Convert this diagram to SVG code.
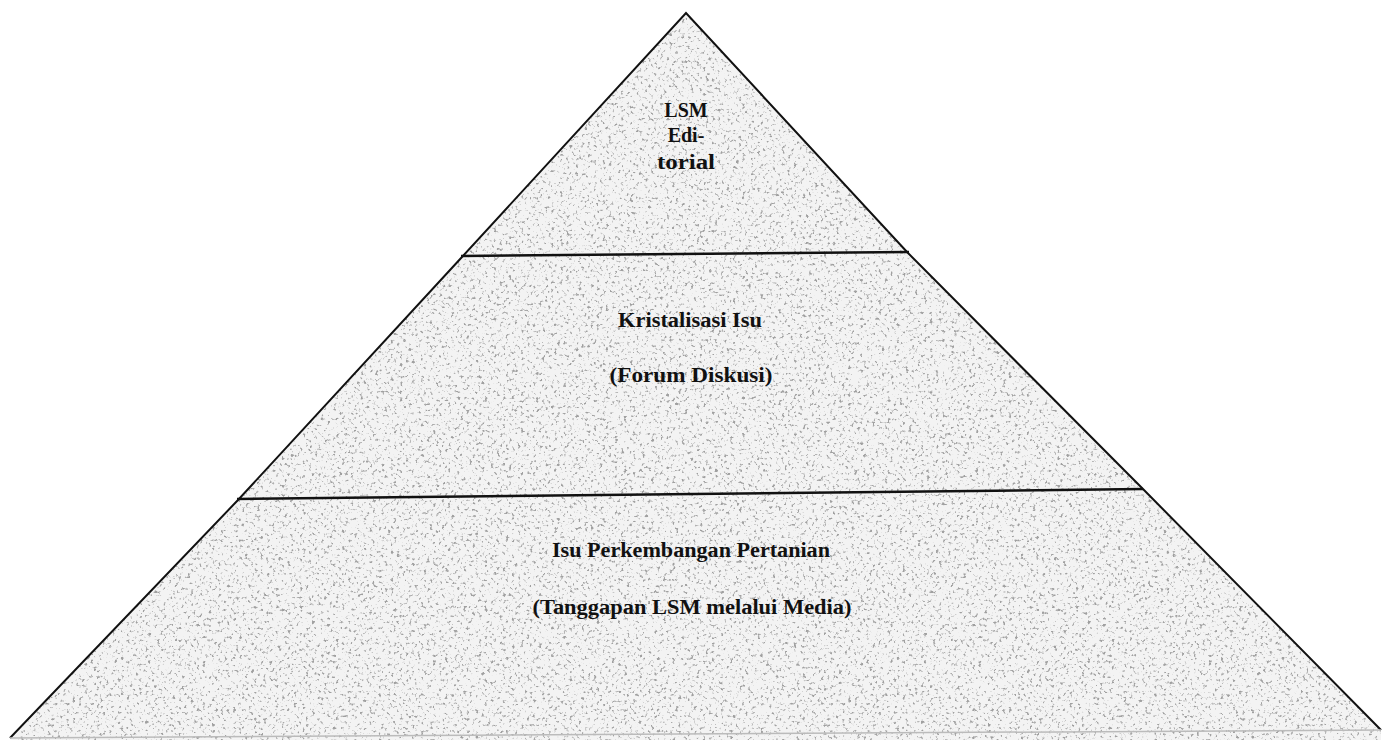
<svg xmlns="http://www.w3.org/2000/svg" width="1393" height="740" viewBox="0 0 1393 740">
<style>
.t{font-family:"Liberation Serif","Times New Roman",serif;font-size:20px;fill:#111;text-anchor:middle;font-weight:bold}
.edge{fill:none;stroke:#111;stroke-width:2}
.div{stroke:#111;stroke-width:2.5}
</style>
<defs>
<clipPath id="tri"><polygon points="686,13 908,253 1142,488 1381,730 1381,740 10,740 238,500 462,257"/></clipPath>
<filter id="speck" x="0" y="0" width="100%" height="100%">
<feTurbulence type="fractalNoise" baseFrequency="0.33" numOctaves="2" seed="7" result="n"/>
<feColorMatrix in="n" type="matrix" values="0 0 0 0 0.35  0 0 0 0 0.35  0 0 0 0 0.35  6 0 0 0 -3.5"/>
</filter>
</defs>
<rect width="1393" height="740" fill="#ffffff"/>
<g id="pyramid-fill" clip-path="url(#tri)">
<rect x="0" y="0" width="1393" height="740" fill="#f3f3f3"/>
<rect x="0" y="0" width="1393" height="740" filter="url(#speck)"/>
</g>
<g id="connectors">
<polyline class="edge" points="10,738 238,500 462,257 686,13 908,253 1142,488 1381,730"/>
<line class="div" x1="461" y1="256" x2="909" y2="252"/>
<line class="div" x1="237" y1="499" x2="1143" y2="489"/>
<line x1="10" y1="738" x2="1381" y2="730" stroke="#bbb" stroke-width="1.5"/>
</g>
<g id="node-top">
<text class="t" x="686" y="117">LSM</text>
<text class="t" x="686" y="142">Edi-</text>
<text class="t" x="686" y="169" textLength="58" lengthAdjust="spacingAndGlyphs">torial</text>
</g>
<g id="node-middle">
<text class="t" x="690" y="327" textLength="144" lengthAdjust="spacingAndGlyphs">Kristalisasi Isu</text>
<text class="t" x="691" y="382" textLength="163" lengthAdjust="spacingAndGlyphs">(Forum Diskusi)</text>
</g>
<g id="node-bottom">
<text class="t" x="691" y="557" textLength="278" lengthAdjust="spacingAndGlyphs">Isu Perkembangan Pertanian</text>
<text class="t" x="692" y="614" textLength="319" lengthAdjust="spacingAndGlyphs">(Tanggapan LSM melalui Media)</text>
</g>
</svg>
